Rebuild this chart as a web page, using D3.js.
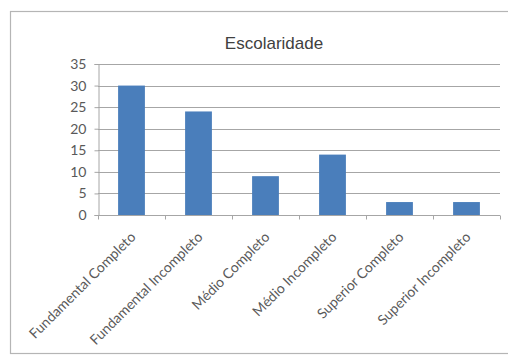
<!DOCTYPE html>
<html>
<head>
<meta charset="utf-8">
<script src="https://cdn.jsdelivr.net/npm/d3@7"></script>
<style>
  html, body { margin: 0; padding: 0; background: #fff; }
  svg { display: block; }
</style>
</head>
<body>
<svg id="chart" width="508" height="358"></svg>
<script>
// Escolaridade: count of respondents per schooling level
const categories = [
  "Fundamental Completo",
  "Fundamental Incompleto",
  "Médio Completo",
  "Médio Incompleto",
  "Superior Completo",
  "Superior Incompleto"
];
const values = [30, 24, 9, 14, 3, 3];
const yTicks = [0, 5, 10, 15, 20, 25, 30, 35];
const title = "Escolaridade";

const svg = d3.select("#chart");
const plot = { left: 98, right: 500, top: 64, bottom: 215 };

// chart frame
svg.append("rect")
  .attr("x", 10.5).attr("y", 11.5)
  .attr("width", 520).attr("height", 342)
  .attr("fill", "#fff")
  .attr("stroke", "#b5b5b5").attr("stroke-width", 1.2);

const x = d3.scaleBand()
  .domain(categories)
  .range([plot.left, plot.right])
  .paddingInner(0.6).paddingOuter(0.3);

const y = d3.scaleLinear()
  .domain([0, 35])
  .range([plot.bottom, plot.top]);

// horizontal gridlines
svg.append("g")
  .selectAll("line")
  .data(yTicks.filter(d => d > 0))
  .join("line")
  .attr("x1", plot.left).attr("x2", plot.right)
  .attr("y1", d => Math.round(y(d)) + 0.5).attr("y2", d => Math.round(y(d)) + 0.5)
  .attr("stroke", "#a6a6a6").attr("stroke-width", 1);

// y axis
const yAxis = svg.append("g")
  .attr("transform", `translate(${plot.left + 0.5},0)`)
  .call(d3.axisLeft(y).tickValues(yTicks).tickSize(4).tickPadding(8).tickFormat(d3.format("d")));
yAxis.select(".domain").attr("stroke", "#a6a6a6");
yAxis.selectAll(".tick line").attr("stroke", "#a6a6a6");
yAxis.selectAll("text")
  .attr("fill", "#595959")
  .style("font-family", "Lato, 'Open Sans', sans-serif")
  .style("font-size", "14px");

// bars
svg.append("g")
  .selectAll("rect")
  .data(values)
  .join("rect")
  .attr("x", (d, i) => x(categories[i]))
  .attr("y", d => y(d))
  .attr("width", x.bandwidth())
  .attr("height", d => y(0) - y(d))
  .attr("fill", "#4a7ebb");

// x axis with tick marks at the category boundaries
const step = (plot.right - plot.left) / categories.length;
const xAxisG = svg.append("g")
  .attr("transform", `translate(0,${Math.round(plot.bottom) + 0.5})`);
xAxisG.append("line")
  .attr("x1", plot.left).attr("x2", plot.right)
  .attr("stroke", "#a6a6a6");
xAxisG.selectAll("line.tk")
  .data(d3.range(categories.length + 1))
  .join("line")
  .attr("class", "tk")
  .attr("x1", i => Math.round(plot.left + i * step) + 0.5)
  .attr("x2", i => Math.round(plot.left + i * step) + 0.5)
  .attr("y1", 0).attr("y2", 4)
  .attr("stroke", "#a6a6a6");

// rotated category labels
svg.append("g")
  .selectAll("text")
  .data(categories)
  .join("text")
  .attr("transform", d => `translate(${x(d) + x.bandwidth() / 2 + 5},${plot.bottom + 23}) rotate(-45)`)
  .attr("text-anchor", "end")
  .attr("fill", "#595959")
  .style("font-family", "Lato, 'Open Sans', sans-serif")
  .style("font-size", "14px")
  .text(d => d);

// title
svg.append("text")
  .attr("x", 274).attr("y", 49)
  .attr("text-anchor", "middle")
  .attr("fill", "#404040")
  .style("font-family", "'Liberation Sans', Arial, sans-serif")
  .style("font-size", "17px")
  .text(title);
</script>
</body>
</html>
